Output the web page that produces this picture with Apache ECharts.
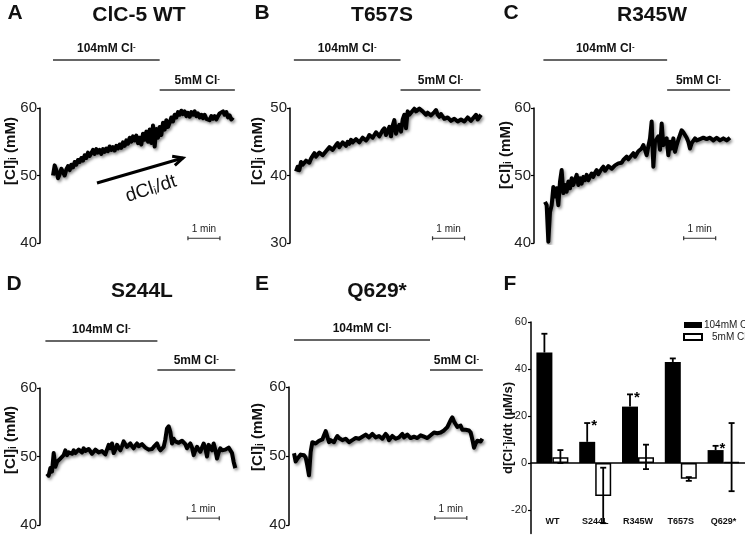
<!DOCTYPE html>
<html><head><meta charset="utf-8">
<script src="https://cdn.jsdelivr.net/npm/echarts@6.0.0/dist/echarts.min.js"></script>
<style>html,body{margin:0;padding:0;background:#fff}#c{width:745px;height:545px}</style>
</head><body><div id="c"></div>
<script>
// ---------- DATA ----------
const dt = 3.125; // seconds between samples
const traceA = [50.0,51.5,50.8,49.6,50.2,51.0,50.5,50.0,50.9,51.4,
50.8,51.6,51.2,52.0,51.6,52.3,52.0,52.6,52.2,53.0,
52.6,53.4,52.9,53.3,53.8,53.2,53.9,53.4,53.8,53.2,
53.9,53.5,54.0,53.6,54.3,53.8,54.2,53.7,54.4,54.0,
54.6,54.1,54.9,54.4,55.2,54.7,55.6,55.0,55.8,55.2,
55.9,54.8,55.6,54.6,56.2,55.3,56.5,55.0,56.8,54.8,
57.4,54.3,56.9,55.6,57.2,56.0,57.8,56.8,58.2,57.2,
57.8,58.6,58.0,59.0,58.6,59.4,59.0,59.6,59.1,59.5,
58.8,59.3,58.7,59.4,59.0,59.5,58.8,59.2,58.6,59.0,
58.5,59.0,58.4,58.6,58.2,58.8,58.4,58.8,58.3,58.8,
59.2,59.0,59.5,59.0,59.4,58.6,58.9,58.3,58.6];
const traceB = [40.6,41.3,40.8,42.0,41.6,41.8,42.2,42.3,41.9,42.5,
42.9,43.3,42.8,43.0,43.4,43.5,43.0,43.3,43.6,43.8,
44.2,44.3,43.8,44.0,44.5,44.8,44.2,44.3,44.9,44.8,
44.4,45.0,44.7,45.3,44.9,45.0,45.4,45.5,44.9,45.0,
45.6,45.8,45.2,45.5,46.0,46.2,45.6,45.8,46.4,46.5,
45.8,46.0,46.7,47.0,46.0,46.2,47.2,45.8,47.4,48.2,
46.2,47.0,47.5,46.5,48.3,49.0,47.0,49.5,49.0,49.2,
49.6,49.9,49.5,49.7,49.9,49.9,49.5,49.7,49.0,49.3,
49.5,48.9,49.0,49.4,49.7,49.0,48.7,49.1,49.0,48.4,
48.2,48.6,48.5,48.1,48.0,48.4,48.5,48.0,48.0,48.3,
48.5,48.0,48.2,48.6,48.7,48.1,48.2,48.7,49.0,48.3,
48.5,49.0];
const traceC = [46.1,45.6,40.2,44.6,45.6,48.3,46.9,48.1,45.6,49.1,
50.8,47.4,48.6,47.6,49.1,48.1,49.6,48.6,48.8,50.1,
48.6,49.6,48.8,49.8,49.3,50.1,49.3,49.8,50.3,49.8,
50.4,50.8,50.2,50.6,51.0,51.3,50.7,50.8,51.4,51.6,
51.0,50.8,51.5,51.3,51.8,52.0,51.9,52.3,52.1,52.8,
52.4,52.5,53.0,53.3,52.8,53.0,53.6,53.5,54.0,54.5,
53.8,53.0,54.3,55.5,58.0,51.3,55.0,55.4,55.8,53.8,
57.7,54.5,55.2,55.5,53.0,55.0,54.0,55.5,53.5,54.5,
55.3,56.0,56.7,56.4,56.2,55.6,55.0,54.0,54.8,55.0,
55.5,55.2,55.0,55.4,55.3,55.6,55.8,55.4,55.3,55.6,
55.5,55.2,55.3,55.6,55.5,55.2,55.1,55.5,55.5,55.2,
55.3,55.6];
const traceD = [47.5,47.2,48.3,47.8,50.5,48.5,49.2,49.0,49.7,49.9,
50.2,50.9,50.2,50.6,50.7,50.4,50.9,50.5,50.7,51.0,
50.9,50.6,51.2,50.8,50.7,51.1,50.9,50.4,50.6,51.0,
51.0,50.6,50.5,50.8,50.9,50.3,50.5,51.7,51.2,51.9,
50.5,51.0,51.7,51.3,50.9,51.5,52.2,51.8,51.4,51.6,
51.9,51.5,51.2,51.6,51.9,51.5,51.4,51.8,51.7,51.3,
51.2,51.0,50.9,51.1,51.4,51.6,51.9,51.3,50.9,51.0,
51.4,52.5,54.1,54.4,53.6,51.9,52.6,52.2,52.3,52.0,
51.9,52.3,52.2,51.8,51.2,51.6,51.9,51.3,50.2,50.9,
51.4,51.0,50.7,51.3,51.9,51.2,50.0,51.7,51.3,50.9,
51.9,51.0,49.7,50.6,51.2,50.9,50.7,51.0,50.9,51.3,
51.2,50.5,49.2,48.3];
const traceE = [50.4,49.2,49.6,49.9,50.2,50.4,50.1,49.8,48.6,47.2,
50.6,52.0,51.9,51.8,52.0,52.2,52.3,52.4,53.0,53.6,
52.8,52.0,52.3,52.2,52.0,52.5,52.9,52.6,52.4,52.3,
52.2,52.5,52.4,52.0,52.2,52.3,52.1,52.6,52.7,52.5,
52.6,52.8,52.9,53.1,53.0,52.7,52.8,53.2,53.0,52.7,
52.8,52.9,52.8,52.5,52.7,53.2,52.9,52.3,52.6,52.9,
52.7,52.5,52.6,52.7,52.9,53.2,52.7,52.5,53.1,53.0,
52.6,52.5,52.8,52.9,52.6,52.5,53.0,53.2,52.8,52.7,
52.6,52.6,53.0,53.2,53.4,53.3,53.3,53.3,53.4,53.4,
53.7,53.9,54.2,54.4,55.2,55.6,55.0,54.6,54.2,54.1,
54.4,53.8,53.6,53.8,53.9,53.7,53.4,52.4,51.2,51.8,
52.2,52.0,52.1,52.5];

const titles = ['ClC-5 WT','T657S','R345W','S244L','Q629*'];
const letters = ['A','B','C','D','E','F'];
const yMins = [40,30,40,40,40];
const yMaxs = [60,50,60,60,60];
const condStart = [0,-4,-3,-3,0];      // s, start of 104 mM Cl- perfusion
const condSwitch = [200,196,229,207,255]; // s, switch to 5 mM Cl-
const condEnd = [341,346,347,353,354];
const condNames = ['104mM Cl','5mM Cl'];
const scaleStart = [253,256,260,263,264];
const scaleLen = 60; // 1 min
const scaleLevel = [40.7,30.7,40.7,41.0,41.0];

const fCats = ['WT','S244L','R345W','T657S','Q629*'];
const fHigh = [47,9,24,43,5.5];
const fHighErr = [55,17,29.2,44.5,7.3];
const fLow = [2.5,-14,2.5,-6.7,0.5];
const fLowErrLo = [0,-25.6,-2.6,-7.6,-12];
const fLowErrHi = [5.5,-2,7.8,-6,17];
const fSig = [0,1,1,0,1];
const fTicks = [-20,0,20,40,60];
const seriesNames = ['104mM Cl-','5mM Cl-'];

// ---------- LAYOUT ----------
const FONT = '"Liberation Sans", Arial, sans-serif';
const L = [
 {left:53, top:108, h:135, off:13, title:[139,15], letter:[15,13], yname:[11,151], c1:60, c2:90},
 {left:296, top:108, h:135, off:6, title:[382,15], letter:[262,13], yname:[258,151], c1:60, c2:90},
 {left:545, top:108, h:135, off:11, title:[652,15], letter:[511,13], yname:[506,155], c1:60, c2:90},
 {left:47, top:388, h:137, off:7, title:[142,291], letter:[14,284], yname:[11,440], c1:341, c2:370},
 {left:294, top:387, h:138, off:5, title:[377,291], letter:[262,284], yname:[258,437], c1:340, c2:370}
];
const traces = [traceA,traceB,traceC,traceD,traceE];

const chart = echarts.init(document.getElementById('c'));
const grids=[], xAxes=[], yAxes=[], series=[];
L.forEach((p,i)=>{
  grids.push({left:p.left, top:p.top, width:192, height:p.h});
  xAxes.push({type:'value', gridIndex:i, min:0, max:360, show:false});
  yAxes.push({type:'value', gridIndex:i, min:yMins[i], max:yMaxs[i], interval:10, offset:p.off,
    axisLine:{show:true, onZero:false, lineStyle:{color:'#000', width:1.5}},
    axisTick:{show:true, length:3, lineStyle:{color:'#000', width:1.2}},
    axisLabel:{color:'#222', fontSize:15, fontFamily:FONT, margin:3},
    splitLine:{show:false}});
  series.push({type:'line', xAxisIndex:i, yAxisIndex:i, data:traces[i].map((v,k)=>[k*dt, v]),
    showSymbol:false, symbol:'none', silent:true, z:3,
    lineStyle:{color:'#000', width:4, join:'round', shadowColor:'rgba(0,0,0,0.45)', shadowBlur:3, shadowOffsetX:1.5, shadowOffsetY:2}});
  series.push({type:'line', xAxisIndex:i, yAxisIndex:i,
    data:[[scaleStart[i], scaleLevel[i]],[scaleStart[i]+scaleLen, scaleLevel[i]]],
    symbol:'rect', symbolSize:[1.2,4], itemStyle:{color:'#333'}, lineStyle:{color:'#333', width:1}, silent:true});
});

// Panel F
grids.push({left:531, top:322, width:216, height:211.5});
xAxes.push({type:'category', gridIndex:5, data:fCats, position:'bottom',
  axisLine:{show:true, onZero:true, lineStyle:{color:'#000', width:1.5}},
  axisTick:{show:false}, axisLabel:{show:false}});
xAxes.push({type:'category', gridIndex:5, data:fCats, position:'bottom',
  axisLine:{show:false, onZero:false}, axisTick:{show:false},
  axisLabel:{fontSize:9, fontWeight:'bold', color:'#111', margin:-16, fontFamily:FONT}});
yAxes.push({type:'value', gridIndex:5, min:-30, max:60,
  axisLine:{show:true, onZero:false, lineStyle:{color:'#000', width:1.5}},
  axisTick:{show:true, length:3, customValues:fTicks, lineStyle:{color:'#000', width:1.2}},
  axisLabel:{customValues:fTicks, fontSize:11, color:'#222', margin:4, fontFamily:FONT},
  splitLine:{show:false}});
series.push({type:'bar', name:seriesNames[0], xAxisIndex:5, yAxisIndex:5, data:fHigh,
  barWidth:16, barGap:'0%', itemStyle:{color:'#000'}});
series.push({type:'bar', name:seriesNames[1], xAxisIndex:5, yAxisIndex:5, data:fLow,
  barWidth:16, barGap:'0%', itemStyle:{color:'#fff', borderColor:'#000', borderWidth:1.5}});

function errRender(params, api){
  const idx=api.value(0), lo=api.value(1), hi=api.value(2), side=api.value(3), capLo=api.value(4), star=api.value(5);
  const pLo=api.coord([idx, lo]), pHi=api.coord([idx, hi]);
  const x=pLo[0]+side*8;
  const st={stroke:'#000', lineWidth:1.8};
  const ch=[{type:'line', shape:{x1:x,y1:pLo[1],x2:x,y2:pHi[1]}, style:st},
            {type:'line', shape:{x1:x-3,y1:pHi[1],x2:x+3,y2:pHi[1]}, style:st}];
  if(capLo) ch.push({type:'line', shape:{x1:x-3,y1:pLo[1],x2:x+3,y2:pLo[1]}, style:st});
  if(star) ch.push({type:'text', x:x+4, y:pHi[1]+3, style:{text:'*', fontSize:15, fontWeight:'bold', fontFamily:FONT, fill:'#000', align:'left', verticalAlign:'middle', textAlign:'left', textVerticalAlign:'middle'}});
  return {type:'group', children:ch};
}
series.push({type:'custom', name:'errHigh', xAxisIndex:5, yAxisIndex:5, renderItem:errRender, z:5,
  encode:{x:0, y:[1,2]}, data:fCats.map((c,k)=>[k, fHigh[k], fHighErr[k], -1, 0, fSig[k]])});
series.push({type:'custom', name:'errLow', xAxisIndex:5, yAxisIndex:5, renderItem:errRender, z:5,
  encode:{x:0, y:[1,2]}, data:fCats.map((c,k)=>[k, fLowErrLo[k], fLowErrHi[k], 1, 1, 0])});

chart.setOption({
  animation:false,
  grid:grids, xAxis:xAxes, yAxis:yAxes, series:series,
  legend:{data:seriesNames, orient:'vertical', left:683, top:320, padding:0, itemWidth:18, itemHeight:6, itemGap:2,
    icon:'rect', selectedMode:false,
    formatter:n=> n===seriesNames[0] ? '{t|104mM Cl}{s|-}' : '{p| }{t|5mM Cl}{s|-}',
    textStyle:{fontSize:10, color:'#222', fontFamily:FONT, padding:[0,0,0,-3],
      rich:{t:{fontSize:10, fontFamily:FONT, color:'#222'}, s:{fontSize:7, verticalAlign:'top', fontFamily:FONT, color:'#222'}, p:{width:8}}}}
});

// ---------- annotations ----------
const g=[];
function txt(x,y,text,rich,extra){
  return Object.assign({type:'text', x:x, y:y, silent:true,
    style:{text:text, rich:rich, align:'center', verticalAlign:'middle', textAlign:'center', textVerticalAlign:'middle', fill:'#111', fontFamily:FONT}}, extra||{});
}
const condRich={t:{fontSize:12, fontWeight:'bold', fontFamily:FONT, fill:'#111', color:'#111'}, s:{fontSize:8, fontWeight:'bold', verticalAlign:'top', fontFamily:FONT, color:'#111'}};
const ynRich={n:{fontSize:15, fontWeight:'bold', fontFamily:FONT, color:'#111'}, sub:{fontSize:10, fontWeight:'bold', verticalAlign:'bottom', fontFamily:FONT, color:'#111'}};
L.forEach((p,i)=>{
  const a=chart.convertToPixel({gridIndex:i},[condStart[i], yMins[i]])[0];
  const s=chart.convertToPixel({gridIndex:i},[condSwitch[i], yMins[i]])[0];
  const e=chart.convertToPixel({gridIndex:i},[condEnd[i], yMins[i]])[0];
  g.push({type:'line', silent:true, shape:{x1:a,y1:p.c1,x2:s,y2:p.c1}, style:{stroke:'#333', lineWidth:1.3}});
  g.push({type:'line', silent:true, shape:{x1:s,y1:p.c2,x2:e,y2:p.c2}, style:{stroke:'#333', lineWidth:1.3}});
  g.push(txt((a+s)/2, p.c1-11, '{t|'+condNames[0]+'}{s|-}', condRich));
  g.push(txt((s+e)/2, p.c2-9, '{t|'+condNames[1]+'}{s|-}', condRich));
  const sc=chart.convertToPixel({gridIndex:i},[scaleStart[i]+scaleLen/2, scaleLevel[i]]);
  g.push(txt(sc[0], sc[1]-9, '1 min', null, {style:{text:'1 min', fontSize:10, fontFamily:FONT, fill:'#222', align:'center', verticalAlign:'middle', textAlign:'center', textVerticalAlign:'middle'}}));
  g.push(txt(p.title[0], p.title[1], titles[i], null, {style:{text:titles[i], fontSize:21, fontWeight:'bold', fontFamily:FONT, fill:'#111', align:'center', verticalAlign:'middle', textAlign:'center', textVerticalAlign:'middle'}}));
  g.push(txt(p.letter[0], p.letter[1], letters[i], null, {style:{text:letters[i], fontSize:21, fontWeight:'bold', fontFamily:FONT, fill:'#111', align:'center', verticalAlign:'middle', textAlign:'center', textVerticalAlign:'middle'}}));
  g.push(txt(p.yname[0], p.yname[1], '{n|[Cl]}{sub|i}{n| (mM)}', ynRich, {rotation:Math.PI/2}));
});
// F letter and y name
g.push(txt(510, 284, 'F', null, {style:{text:'F', fontSize:21, fontWeight:'bold', fontFamily:FONT, fill:'#111', align:'center', verticalAlign:'middle', textAlign:'center', textVerticalAlign:'middle'}}));
g.push(txt(508, 428, '{n|d[Cl}{sup|-}{n|]}{sub|i}{n|/dt (µM/s)}',
  {n:{fontSize:13, fontWeight:'bold', fontFamily:FONT, color:'#111'}, sup:{fontSize:8, fontWeight:'bold', verticalAlign:'top', fontFamily:FONT, color:'#111'}, sub:{fontSize:9, fontWeight:'bold', verticalAlign:'bottom', fontFamily:FONT, color:'#111'}},
  {rotation:Math.PI/2}));
// arrow dCl/dt in panel A
const ax1=97, ay1=183, ax2=183, ay2=158;
const ang=Math.atan2(ay2-ay1, ax2-ax1);
const hl=11, ha=0.45;
g.push({type:'line', silent:true, shape:{x1:ax1,y1:ay1,x2:ax2,y2:ay2}, style:{stroke:'#000', lineWidth:3}});
g.push({type:'polyline', silent:true, shape:{points:[[ax2-hl*Math.cos(ang-ha), ay2-hl*Math.sin(ang-ha)],[ax2,ay2],[ax2-hl*Math.cos(ang+ha), ay2-hl*Math.sin(ang+ha)]]}, style:{stroke:'#000', lineWidth:3, fill:null}});
g.push(txt(151, 189, '{n|dCl}{sub|i}{n|/dt}', {n:{fontSize:19, fontFamily:FONT, color:'#111'}, sub:{fontSize:12, verticalAlign:'bottom', fontFamily:FONT, color:'#111'}}, {rotation:18*Math.PI/180}));

chart.setOption({graphic:{elements:g}});
</script>
</body></html>
